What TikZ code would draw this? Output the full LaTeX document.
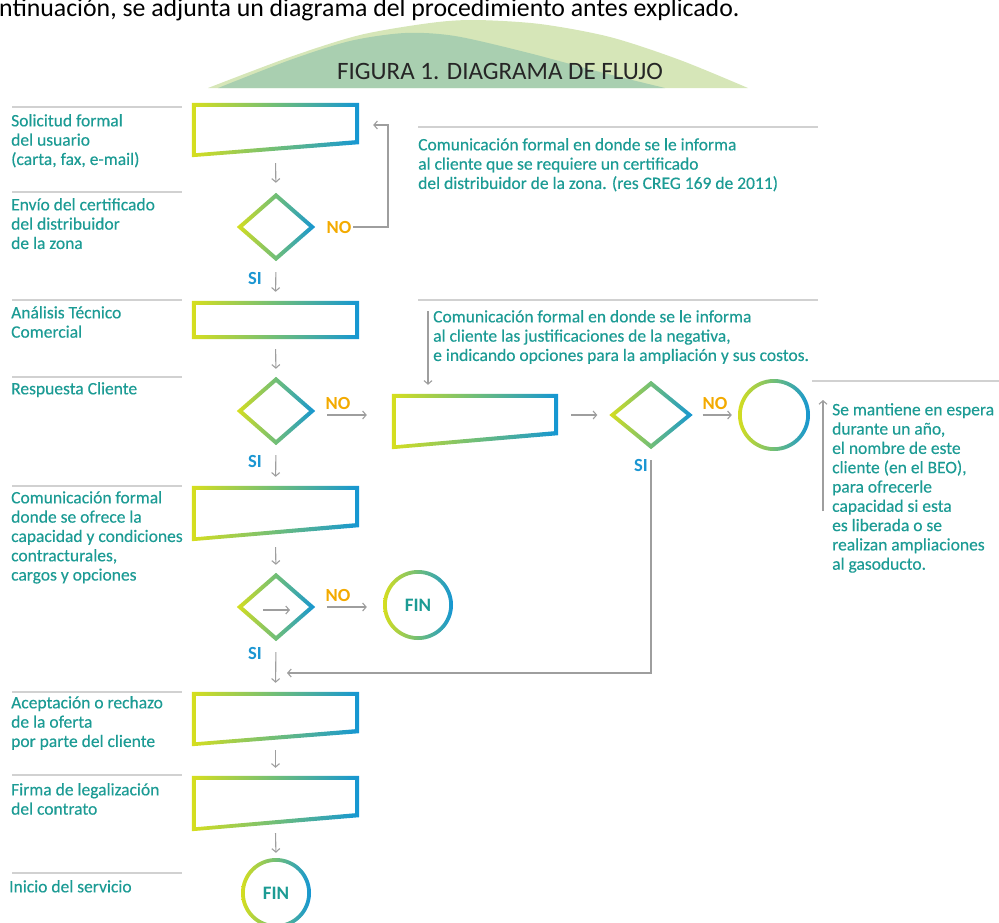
\documentclass[tikz,border=0pt]{standalone}
\usepackage{fontspec}
\setmainfont{Carlito}
\newfontfamily\lblfont[FakeBold=0.35]{Carlito}
\usetikzlibrary{arrows.meta,calc}

\definecolor{tealtxt}{RGB}{28,155,148}
\definecolor{gyel}{RGB}{214,222,30}
\definecolor{ggrn}{RGB}{112,190,120}
\definecolor{gblu}{RGB}{20,150,212}
\definecolor{noorg}{RGB}{243,170,0}
\definecolor{siblu}{RGB}{27,150,210}
\definecolor{hilla}{RGB}{158,202,174}
\definecolor{hillb}{RGB}{214,230,184}

% gradient outlines drawn round the (invisible) flow nodes
\newcommand\flowbox[2]{%
  \shade[ring] (#1.north west) -- (#1.north east) -- ([yshift=#2]#1.south east) -- (#1.south west) -- cycle
    ([shift={(4pt,-4pt)}]#1.north west) -- ([shift={(-4pt,-4pt)}]#1.north east)
    -- ([shift={(-4pt,#2+4pt)}]#1.south east) -- ([shift={(4pt,4pt)}]#1.south west) -- cycle;}
\newcommand\flowdia[1]{%
  \shade[ring] (#1.north) -- (#1.east) -- (#1.south) -- (#1.west) -- cycle
    ([yshift=-5.3pt]#1.north) -- ([xshift=-6.1pt]#1.east) -- ([yshift=5.3pt]#1.south) -- ([xshift=6.1pt]#1.west) -- cycle;}
\newcommand\flowring[2]{%
  \shade[ring] (#1.center) circle [radius=#2] (#1.center) circle [radius=#2-3.8pt];}

\begin{document}
\begin{tikzpicture}[x=1pt,y=-1pt,
    ring/.style={even odd rule,left color=gyel,right color=gblu,middle color=ggrn},
    slot/.style={rectangle,inner sep=0pt,minimum width=167pt},
    dia/.style={rectangle,inner sep=0pt,minimum width=78pt,minimum height=68pt},
    fin/.style={circle,inner sep=0pt,minimum size=70pt,text=tealtxt,font=\bfseries\fontsize{19}{22}\selectfont},
    conn/.style={draw=black!38,line width=1.1pt,-{Straight Barb[length=3.5pt,width=8pt]}},
    sep/.style={line width=2.6pt,draw=black!18},
    lbl/.style={anchor=north west,inner sep=0pt,align=left,text=tealtxt,font=\lblfont\fontsize{17.5}{19.3}\selectfont},
    nolbl/.style={inner sep=0pt,text=noorg,font=\bfseries\fontsize{18.5}{20}\selectfont},
    silbl/.style={inner sep=0pt,text=siblu,font=\bfseries\fontsize{18.5}{20}\selectfont}]
    \useasboundingbox (0,0) rectangle (999,922);

    % heading
    \fill[hillb] plot[smooth] coordinates {(208,88) (290,57) (360,35) (430,23) (475,20) (540,24) (610,37) (680,60) (748,88)} -- cycle;
    \fill[hilla,opacity=.8] plot[smooth] coordinates {(218,88) (290,60) (350,41) (405,33) (455,36) (525,52) (600,72) (665,88)} -- cycle;
    \node (intro) at (-1,16) [anchor=base west,inner sep=0pt,font=\fontsize{25.8}{30}\selectfont] {ntinuación, se adjunta un diagrama del procedimiento antes explicado.};
    \node (title) at (500,71) [text=black!85,font=\fontsize{25}{30}\selectfont] {FIGURA 1. DIAGRAMA DE FLUJO};

    % left column
    \foreach \y in {107,192,300,377,486,692,775,873}
        \draw[sep] (12,\y) -- (182,\y);
    \node (l1) at (11,114) [lbl] {Solicitud formal\\del usuario\\(carta, fax, e-mail)};
    \node (l2) at (11,198) [lbl] {Envío del certificado\\del distribuidor\\de la zona};
    \node (l3) at (11,306) [lbl] {Análisis Técnico\\Comercial};
    \node (l4) at (11,382) [lbl] {Respuesta Cliente};
    \node (l5) at (11,491) [lbl] {Comunicación formal\\donde se ofrece la\\capacidad y condiciones\\contracturales,\\cargos y opciones};
    \node (l6) at (11,696) [lbl] {Aceptación o rechazo\\de la oferta\\por parte del cliente};
    \node (l7) at (11,783) [lbl] {Firma de legalización\\del contrato};
    \node (l8) at (9,880) [lbl] {Inicio del servicio};

    % notes
    \draw[sep] (418,127) -- (818,127);
    \draw[sep] (418,300) -- (818,300);
    \draw[sep] (812,381) -- (999,381);
    \node (n1) at (418,138) [lbl] {Comunicación formal en donde se le informa\\al cliente que se requiere un certificado\\del distribuidor de la zona. (res CREG 169 de 2011)};
    \node (n2) at (433,310) [lbl] {Comunicación formal en donde se le informa\\al cliente las justificaciones de la negativa,\\e indicando opciones para la ampliación y sus costos.};
    \node (n3) at (832,403) [lbl] {Se mantiene en espera\\durante un año,\\el nombre de este\\cliente (en el BEO),\\para ofrecerle\\capacidad si esta\\es liberada o se\\realizan ampliaciones\\al gasoducto.};

    % flow nodes
    \node (b1) at (275.5,130) [slot,minimum height=54pt] {};
    \node (d1) at (276,227) [dia] {};
    \node (b3) at (275.5,320) [slot,minimum height=38pt] {};
    \node (d2) at (276,411) [dia] {};
    \node (b4) at (475,421.5) [slot,minimum width=166pt,minimum height=55pt] {};
    \node (d3) at (651,415) [dia,minimum width=83pt] {};
    \node (c1) at (774,415) [fin,minimum size=72pt] {};
    \node (b5) at (275.5,513.5) [slot,minimum height=55pt] {};
    \node (d4) at (276,607) [dia] {};
    \node (fin1) at (418,605) [fin] {FIN};
    \node (b6) at (275.5,719) [slot,minimum height=54pt] {};
    \node (b7) at (275.5,803.5) [slot,minimum height=55pt] {};
    \node (fin2) at (276,893) [fin] {FIN};

    \flowbox{b1}{13pt}
    \flowbox{b3}{0pt}
    \flowbox{b4}{14pt}
    \flowbox{b5}{14pt}
    \flowbox{b6}{13pt}
    \flowbox{b7}{14pt}
    \flowdia{d1} \flowdia{d2} \flowdia{d3} \flowdia{d4}
    \flowring{c1}{36pt}
    \flowring{fin1}{35pt}
    \flowring{fin2}{35pt}

    \node (no1) at (339,227) [nolbl] {NO};
    \node (si1) at (255,278) [silbl] {SI};
    \node (no2) at (338,403) [nolbl] {NO};
    \node (si2) at (255,461) [silbl] {SI};
    \node (no3) at (715,403) [nolbl] {NO};
    \node (si3) at (641,465) [silbl] {SI};
    \node (no4) at (338,595) [nolbl] {NO};
    \node (si4) at (255,653) [silbl] {SI};

    % connectors
    \coordinate (ret1) at (388,125);
    \coordinate (ret2) at (651,673);
    \coordinate (cm2) at (428,311);
    \coordinate (cm3) at (823,511);
    \draw[conn,shorten <=6pt,shorten >=10pt] (b1.south) -- (d1.north);
    \draw[conn,shorten >=14pt] ([xshift=38pt]d1.east) -| (ret1) -- (ret1 -| b1.east);
    \draw[conn,shorten <=11pt,shorten >=9pt] (d1.south) -- (b3.north);
    \draw[conn,shorten <=10pt,shorten >=8pt] (b3.south) -- (d2.north);
    \draw[conn,shorten <=10pt,shorten >=9pt] (d2.south) -- (b5.north);
    \draw[conn,shorten <=12pt,shorten >=25pt] ([yshift=-4pt]d2.east) -- ([yshift=-4pt]d2.east -| b4.west);
    \draw[conn,shorten <=13pt,shorten >=12pt] (b4.east |- d3) -- (d3.west);
    \draw[conn,shorten <=10pt,shorten >=6pt] (d3.east) -- (c1.west);
    \draw[conn,shorten <=11pt,shorten >=11pt] (d3.south) -- (ret2) -- (ret2 -| d4.south);
    \draw[conn,shorten <=6pt,shorten >=8pt] (b5.south) -- (d4.north);
    \draw[conn,shorten <=12pt,shorten >=16pt] (d4.east) -- (d4.east -| fin1.west);
    \draw[conn] ([shift={(-13pt,-3pt)}]d4.center) -- ([shift={(14pt,-3pt)}]d4.center);
    \draw[conn,shorten <=11pt,shorten >=9pt] (d4.south) -- (b6.north);
    \draw[conn,shorten <=4pt,shorten >=8pt] (b6.south) -- (b7.north);
    \draw[conn,shorten <=2pt,shorten >=5pt] (b7.south) -- (fin2.north);
    \draw[conn,shorten >=9pt] (cm2) -- (cm2 |- b4.north);
    \draw[conn] (cm3) -- ([yshift=3pt]cm3 |- n3.north);
\end{tikzpicture}
\end{document}
